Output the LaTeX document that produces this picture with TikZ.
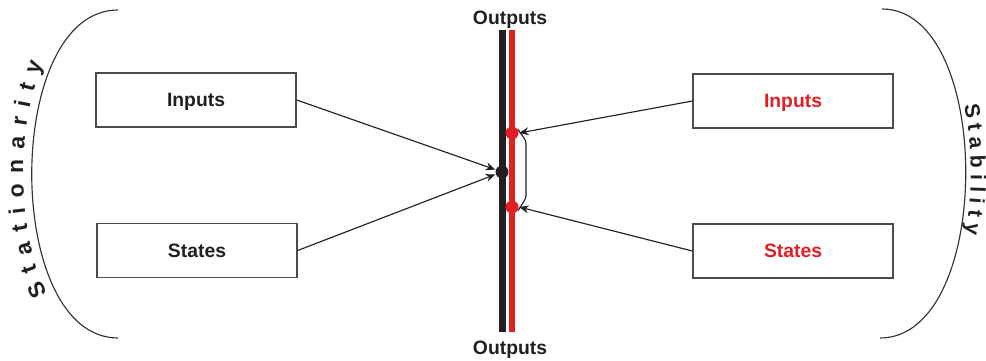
\documentclass[tikz,border=0pt]{standalone}
\usepackage{fontspec}
\usetikzlibrary{arrows.meta,decorations.text}
\setmainfont{Liberation Sans}
\definecolor{barblack}{HTML}{231F20}
\definecolor{barred}{HTML}{E31E24}
\begin{document}
\begin{tikzpicture}[x=0.02cm, y=-0.02cm, font=\bfseries\fontsize{11}{13}\selectfont, line width=0.65pt, >={Stealth[length=5.5pt,width=4.5pt]},
  box/.style={draw=black!70, line width=0.75pt, minimum width=4cm, minimum height=1.08cm, inner sep=0pt, text height=7.9pt, text depth=0pt},
  lbl/.style={text=barblack, text height=7.9pt, text depth=0pt},
  dot/.style={circle, fill=#1, inner sep=0pt, minimum size=0.26cm},
  bar/.style={line width=0.13cm, draw=#1},
  arc/.style={draw=black!80, line width=0.65pt}]
  \useasboundingbox (0,0) rectangle (986,361);
  % the two output bars
  \draw[bar=barblack] (502.5,30) -- (502.5,332);
  \draw[bar=barred] (512,30) -- (512,332);
  \node[lbl] (outTop) at (510,17.5) {Outputs};
  \node[lbl] (outBot) at (510,347.5) {Outputs};
  \node[dot=barblack] (dotK) at (502,172) {};
  \node[dot=barred] (dotRa) at (512,133) {};
  \node[dot=barred] (dotRb) at (512,207) {};
  % left side
  \node[box, text=barblack] (inL) at (196,100) {Inputs};
  \node[box, text=barblack] (stL) at (197,250.5) {States};
  \draw[->, draw=barblack] (inL.east) -- (dotK.160);
  \draw[->, draw=barblack] (stL.east) -- (dotK.200);
  % right side
  \node[box, text=barred] (inR) at (793,101) {Inputs};
  \node[box, text=barred] (stR) at (793,251) {States};
  \draw[->, draw=barblack] (inR.west) -- (dotRa.east);
  \draw[->, draw=barblack] (stR.west) -- (dotRb.east);
  \draw[draw=barblack, rounded corners=1.5pt] (dotRa.30) -- (526,141) -- (526,198) -- (dotRb.-30);
  % brackets
  \draw[arc] (118,10) .. controls (3,10) and (3,338) .. (118,338);
  \draw[arc] (882,9) .. controls (994,9) and (994,338) .. (880,338);
  \path[decorate, decoration={text along path, text align={center, right indent=0.4cm},
    text={|\bfseries\fontsize{13}{15}\selectfont\color{barblack}\kern5.7pt|Stationarity}}]
    (108,338) .. controls (-5,338) and (-5,10) .. (108,10);
  \path[decorate, decoration={text along path, text align={center, right indent=0.3cm},
    text={|\bfseries\fontsize{12}{14}\selectfont\color{barblack}\kern3.4pt|Stability}}]
    (887,9) .. controls (999,9) and (999,338) .. (885,338);
\end{tikzpicture}
\end{document}
